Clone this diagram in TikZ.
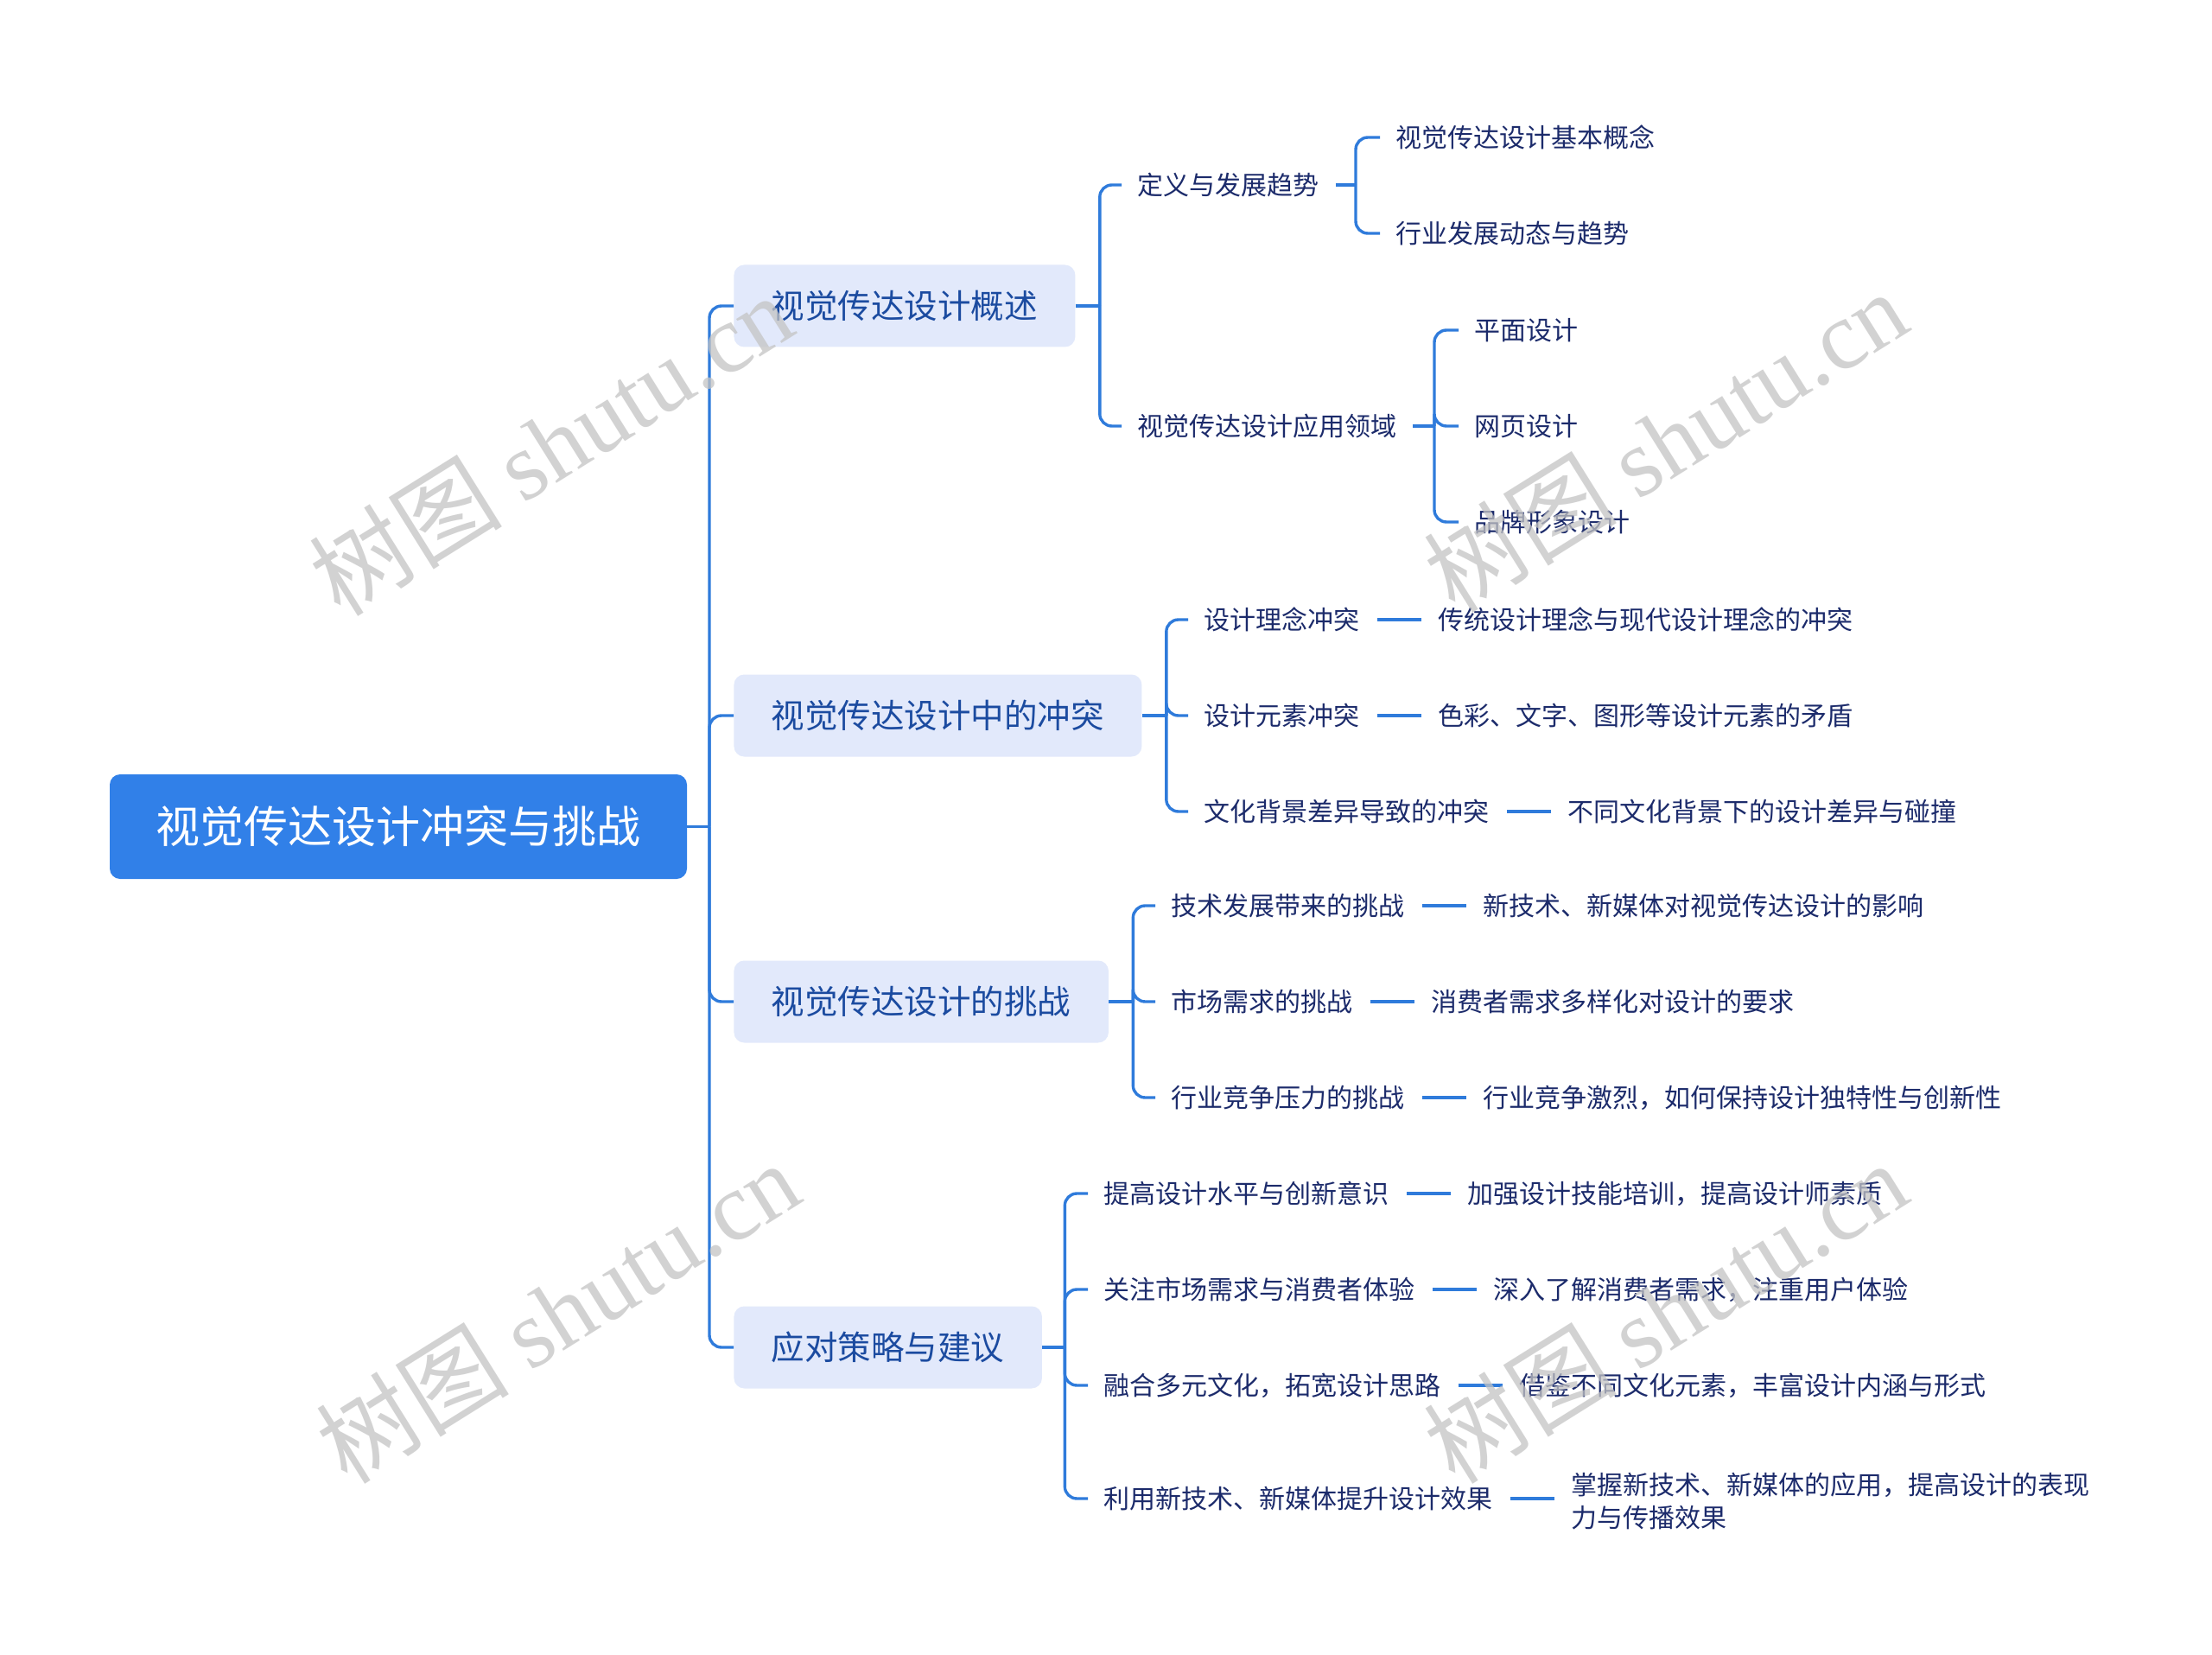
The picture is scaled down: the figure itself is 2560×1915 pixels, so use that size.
\documentclass[tikz,border=0pt]{standalone}
\usepackage{fontspec}
\setmainfont{Noto Sans CJK SC}
\newfontfamily\wmlatin{Liberation Serif}
\definecolor{rootblue}{HTML}{3180E8}
\definecolor{boxfill}{HTML}{E2E9FB}
\definecolor{boxtext}{HTML}{1B4BA0}
\definecolor{leaftext}{HTML}{1C2B6B}
\definecolor{linecol}{HTML}{2F7BDB}
\definecolor{wm}{HTML}{C4C4C4}
\begin{document}
\begin{tikzpicture}[x=0.5pt,y=-0.5pt,
 rootnode/.style={fill=rootblue, rounded corners=6pt, text=white, font=\fontsize{25.5pt}{30pt}\selectfont, minimum width=334pt, minimum height=60.5pt, inner sep=0pt, text height=21.2pt, text depth=1.8pt},
 topic/.style={fill=boxfill, rounded corners=6pt, text=boxtext, font=\fontsize{19.25pt}{23pt}\selectfont, minimum height=47.5pt, inner xsep=21.75pt, inner ysep=0pt, anchor=west, text height=16pt, text depth=1.35pt},
 leaf/.style={text=leaftext, font=\fontsize{15pt}{19pt}\selectfont, inner sep=0pt, anchor=west, text height=12.45pt, text depth=1.05pt},
 leaftwo/.style={text=leaftext, font=\fontsize{15pt}{19pt}\selectfont, inner sep=0pt, anchor=west, align=left},
 conn/.style={draw=linecol, line width=1.7pt, rounded corners=7pt},
 wmark/.style={text=wm, opacity=0.75, rotate=32, font=\fontsize{56pt}{60pt}\selectfont}
]
\useasboundingbox (0,0) rectangle (2560,1915);
\fill[white] (0,0) rectangle (2560,1915);

% root
\node[rootnode] (root) at (461,956.5) {视觉传达设计冲突与挑战};
\coordinate (rj) at (821,956.5);

% level 1
\node[topic] (A) at (849,354) {视觉传达设计概述};
\node[topic] (B) at (849,828) {视觉传达设计中的冲突};
\node[topic] (C) at (849,1159) {视觉传达设计的挑战};
\node[topic] (D) at (849,1559) {应对策略与建议};

\draw[conn] (root.east) -- (rj);
\foreach \n in {A,B,C,D} \draw[conn] (rj) |- (\n.west);

% ---- A
\coordinate (aj) at ([xshift=14pt]A.east);
\node[leaf] (A1) at (1316,214) {定义与发展趋势};
\node[leaf] (A2) at (1316,493) {视觉传达设计应用领域};
\draw[conn] (A.east) -- (aj);
\foreach \n in {A1,A2} \draw[conn] (aj) |- ([xshift=-9pt]\n.west);

\node[leaf] (A11) at (1615,159) {视觉传达设计基本概念};
\node[leaf] (A12) at (1615,270) {行业发展动态与趋势};
\coordinate (a1j) at (1569,214);
\draw[conn] ([xshift=9.5pt]A1.east) -- (a1j);
\foreach \n in {A11,A12} \draw[conn] (a1j) |- ([xshift=-9pt]\n.west);

\node[leaf] (A21) at (1706,382) {平面设计};
\node[leaf] (A22) at (1706,493) {网页设计};
\node[leaf] (A23) at (1706,604) {品牌形象设计};
\coordinate (a2j) at (1660,493);
\draw[conn] ([xshift=9pt]A2.east) -- (a2j);
\foreach \n in {A21,A22,A23} \draw[conn] (a2j) |- ([xshift=-9pt]\n.west);

% ---- B
\coordinate (bj) at ([xshift=14pt]B.east);
\node[leaf] (B1) at (1393,717) {设计理念冲突};
\node[leaf] (B2) at (1393,828) {设计元素冲突};
\node[leaf] (B3) at (1393,939) {文化背景差异导致的冲突};
\draw[conn] (B.east) -- (bj);
\foreach \n in {B1,B2,B3} \draw[conn] (bj) |- ([xshift=-9pt]\n.west);
\node[leaf] (B1c) at ([xshift=45pt]B1.east) {传统设计理念与现代设计理念的冲突};
\node[leaf] (B2c) at ([xshift=45pt]B2.east) {色彩、文字、图形等设计元素的矛盾};
\node[leaf] (B3c) at ([xshift=45pt]B3.east) {不同文化背景下的设计差异与碰撞};
\foreach \n in {B1,B2,B3} \draw[conn] ([xshift=10pt]\n.east) -- ([xshift=-9.5pt]\n c.west);

% ---- C
\coordinate (cj) at ([xshift=14pt]C.east);
\node[leaf] (C1) at (1355,1048) {技术发展带来的挑战};
\node[leaf] (C2) at (1355,1159) {市场需求的挑战};
\node[leaf] (C3) at (1355,1270) {行业竞争压力的挑战};
\draw[conn] (C.east) -- (cj);
\foreach \n in {C1,C2,C3} \draw[conn] (cj) |- ([xshift=-9pt]\n.west);
\node[leaf] (C1c) at ([xshift=45pt]C1.east) {新技术、新媒体对视觉传达设计的影响};
\node[leaf] (C2c) at ([xshift=45pt]C2.east) {消费者需求多样化对设计的要求};
\node[leaf] (C3c) at ([xshift=45pt]C3.east) {行业竞争激烈，如何保持设计独特性与创新性};
\foreach \n in {C1,C2,C3} \draw[conn] ([xshift=10pt]\n.east) -- ([xshift=-9.5pt]\n c.west);

% ---- D
\coordinate (dj) at ([xshift=13pt]D.east);
\node[leaf] (D1) at (1277,1381) {提高设计水平与创新意识};
\node[leaf] (D2) at (1277,1492) {关注市场需求与消费者体验};
\node[leaf] (D3) at (1277,1603) {融合多元文化，拓宽设计思路};
\node[leaf] (D4) at (1277,1734) {利用新技术、新媒体提升设计效果};
\draw[conn] (D.east) -- (dj);
\foreach \n in {D1,D2,D3,D4} \draw[conn] (dj) |- ([xshift=-9pt]\n.west);
\node[leaf] (D1c) at ([xshift=45pt]D1.east) {加强设计技能培训，提高设计师素质};
\node[leaf] (D2c) at ([xshift=45pt]D2.east) {深入了解消费者需求，注重用户体验};
\node[leaf] (D3c) at ([xshift=45pt]D3.east) {借鉴不同文化元素，丰富设计内涵与形式};
\node[leaftwo] (D4c) at ([xshift=45pt,yshift=-1.5pt]D4.east) {掌握新技术、新媒体的应用，提高设计的表现\\力与传播效果};
\foreach \n in {D1,D2,D3} \draw[conn] ([xshift=10pt]\n.east) -- ([xshift=-9.5pt]\n c.west);
\draw[conn] ([xshift=10pt]D4.east) -- ([xshift=-9.5pt]D4.east -| D4c.west);

% watermarks
\node[wmark] (w1) at (637,514) {树图 {\wmlatin shutu.cn}};
\node[wmark] (w2) at (1927,510) {树图 {\wmlatin shutu.cn}};
\node[wmark] (w3) at (645,1518) {树图 {\wmlatin shutu.cn}};
\node[wmark] (w4) at (1927,1518) {树图 {\wmlatin shutu.cn}};
\end{tikzpicture}
\end{document}
